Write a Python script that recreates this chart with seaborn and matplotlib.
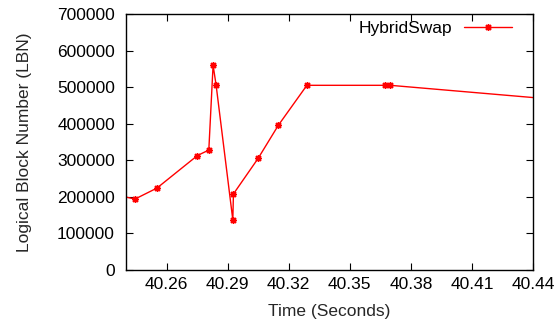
import matplotlib
matplotlib.use("Agg")
import matplotlib.pyplot as plt
import seaborn as sns
import pandas as pd

# Data
time_s = [40.236, 40.2444, 40.2552, 40.2751, 40.2807, 40.2828, 40.2843,
          40.2925, 40.2928, 40.3049, 40.3149, 40.3289, 40.3671, 40.3699, 40.46]
lbn = [204500, 194000, 224000, 313000, 328000, 560000, 505000,
       137000, 208000, 305000, 396000, 505000, 505000, 505000, 462000]
series_name = "HybridSwap"
x_ticks = [40.26, 40.29, 40.32, 40.35, 40.38, 40.41, 40.44]
y_ticks = [0, 100000, 200000, 300000, 400000, 500000, 600000, 700000]

df = pd.DataFrame({"Time": time_s, "LBN": lbn, "Series": series_name})

sns.set_theme(style="white")
plt.rcParams["font.family"] = ["Liberation Sans", "DejaVu Sans"]

fig = plt.figure(figsize=(5.59, 3.23), dpi=100)
ax = fig.add_axes([0.2254, 0.164, 0.728, 0.7927])

red = "#ff0000"
sns.lineplot(data=df, x="Time", y="LBN", hue="Series", palette=[red],
             marker=(8, 2, 0), markersize=5, markeredgewidth=1.0,
             markeredgecolor=red, markerfacecolor=red,
             linewidth=1.0, sort=False, ax=ax, estimator=None)

ax.set_xlim(40.24, 40.44)
ax.set_ylim(0, 700000)
ax.set_xticks(x_ticks)
ax.set_xticklabels([f"{t:.2f}" for t in x_ticks], fontsize=12.5)
ax.set_yticks(y_ticks)
ax.set_yticklabels([str(v) for v in y_ticks], fontsize=12.5)
ax.tick_params(direction="in", length=5, width=0.8, top=True, right=True,
               bottom=True, left=True, colors="black", labelcolor="black")
ax.tick_params(axis="y", pad=8)
ax.tick_params(axis="x", pad=5)
for s in ax.spines.values():
    s.set_color("black")
    s.set_linewidth(1.0)

ax.set_xlabel("Time (Seconds)", fontsize=12.5, labelpad=9)
ax.set_ylabel("Logical Block Number (LBN)", fontsize=12.5, labelpad=18)

leg = ax.legend(loc="upper right", frameon=False, markerfirst=False,
                fontsize=12.5, handlelength=2.75, borderaxespad=0.0,
                handletextpad=0.7, bbox_to_anchor=(0.965, 1.0))
for t in leg.get_texts():
    t.set_color("black")
for h in leg.legend_handles:
    h.set_markeredgecolor(red)

fig.savefig("out.png", dpi=100)
